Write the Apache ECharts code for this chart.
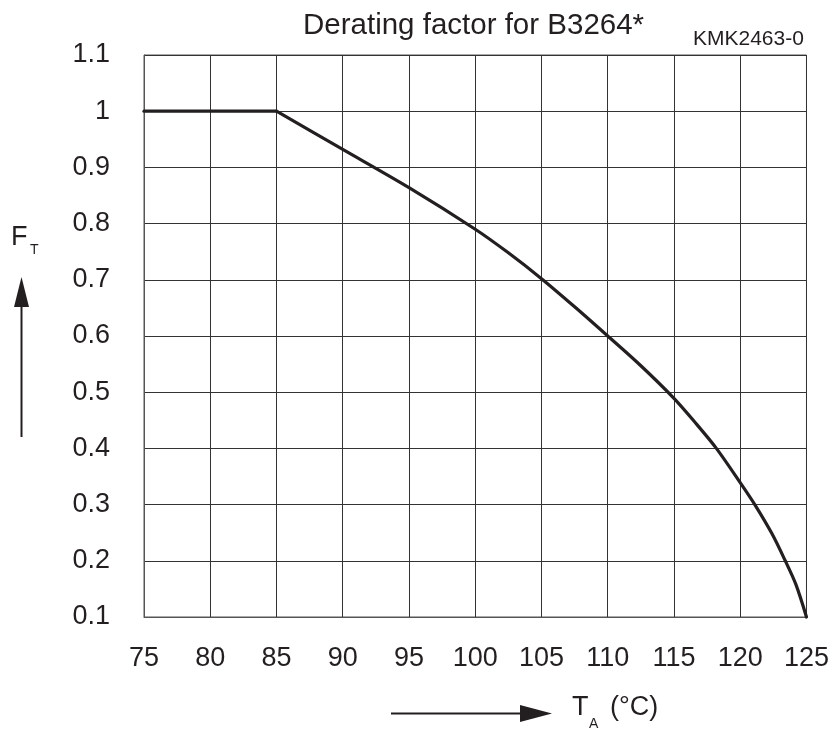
<!DOCTYPE html>
<html>
<head>
<meta charset="utf-8">
<script src="https://cdn.jsdelivr.net/npm/echarts@6/dist/echarts.min.js"></script>
<style>
  html, body { margin: 0; padding: 0; background: #fff; }
  #chart { width: 832px; height: 731px; }
</style>
</head>
<body>
<div id="chart"></div>
<script>
// Data
var temperatureC = [75, 85, 90, 95, 100, 102.5, 105, 107.5, 110, 112.5, 115, 116.6, 118.2, 120, 121.1, 122.4, 123.4, 124.2, 125];
var deratingFactor = [1, 1, 0.932, 0.864, 0.790, 0.748, 0.702, 0.652, 0.60, 0.547, 0.489, 0.446, 0.400, 0.339, 0.30, 0.248, 0.20, 0.158, 0.10];
var plateauEndIndex = 1; // curve breaks at 85 °C
var xTicks = [75, 80, 85, 90, 95, 100, 105, 110, 115, 120, 125];
var yTicks = [0.1, 0.2, 0.3, 0.4, 0.5, 0.6, 0.7, 0.8, 0.9, 1, 1.1];
var titleText = 'Derating factor for B3264*';
var codeText = 'KMK2463-0';

var FONT = '"Liberation Sans", Arial, Helvetica, sans-serif';
var INK = '#231f20';

var pairs = temperatureC.map(function (t, i) { return [t, deratingFactor[i]]; });
var plateau = pairs.slice(0, plateauEndIndex + 1);
var decline = pairs.slice(plateauEndIndex);

var lineCommon = {
  type: 'line',
  showSymbol: false,
  clip: false,
  lineStyle: { color: INK, width: 3.2, join: 'round', cap: 'round' }
};

var chart = echarts.init(document.getElementById('chart'), null, { renderer: 'canvas' });
chart.setOption({
  backgroundColor: '#ffffff',
  animation: false,
  title: {
    text: titleText,
    left: 298,
    top: 6,
    textStyle: { fontFamily: FONT, fontSize: 29.5, fontWeight: 'normal', color: INK }
  },
  grid: {
    left: 144, right: 25, top: 55, bottom: 114,
    show: true, borderColor: '#555', borderWidth: 1, backgroundColor: 'transparent'
  },
  xAxis: {
    type: 'value',
    min: xTicks[0], max: xTicks[xTicks.length - 1], interval: 5,
    axisLine: { show: true, lineStyle: { color: '#555', width: 1 } },
    axisTick: { show: false },
    splitLine: { show: true, lineStyle: { color: '#333', width: 1 } },
    axisLabel: { fontFamily: FONT, fontSize: 27, color: INK, margin: 28 }
  },
  yAxis: {
    type: 'value',
    min: yTicks[0], max: yTicks[yTicks.length - 1], interval: 0.1,
    axisLine: { show: true, lineStyle: { color: '#555', width: 1 } },
    axisTick: { show: false },
    splitLine: { show: true, lineStyle: { color: '#333', width: 1 } },
    axisLabel: {
      fontFamily: FONT, fontSize: 27, color: INK, margin: 34,
      formatter: function (v) { return String(Math.round(v * 10) / 10); }
    }
  },
  series: [
    Object.assign({}, lineCommon, { data: plateau, smooth: false }),
    Object.assign({}, lineCommon, { data: decline, smooth: 0.3 })
  ],
  graphic: [
    { type: 'text', left: 693, top: 29, style: { text: codeText, font: '21px ' + FONT, fill: INK } },
    { type: 'text', left: 11, top: 224, style: { text: 'F', font: '27px ' + FONT, fill: INK } },
    { type: 'text', left: 30, top: 243, style: { text: 'T', font: '14px ' + FONT, fill: INK } },
    { type: 'line', shape: { x1: 21.5, y1: 437, x2: 21.5, y2: 300 }, style: { stroke: INK, lineWidth: 2 } },
    { type: 'polygon', shape: { points: [[14, 307], [29, 307], [21.5, 277]] }, style: { fill: INK } },
    { type: 'line', shape: { x1: 391, y1: 713.5, x2: 525, y2: 713.5 }, style: { stroke: INK, lineWidth: 2 } },
    { type: 'polygon', shape: { points: [[520, 705], [520, 722], [552, 713.5]] }, style: { fill: INK } },
    { type: 'text', left: 572, top: 694, style: { text: 'T', font: '27px ' + FONT, fill: INK } },
    { type: 'text', left: 589, top: 717, style: { text: 'A', font: '14px ' + FONT, fill: INK } },
    { type: 'text', left: 610, top: 694, style: { text: '(°C)', font: '27px ' + FONT, fill: INK } }
  ]
});
</script>
</body>
</html>
